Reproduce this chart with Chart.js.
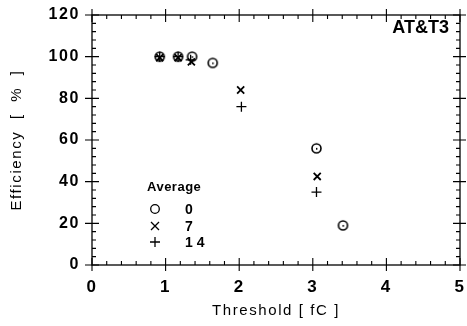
<!DOCTYPE html>
<html>
<head>
<meta charset="utf-8">
<script src="https://cdn.jsdelivr.net/npm/chart.js@4.4.0/dist/chart.umd.min.js"></script>
<style>
html,body{margin:0;padding:0;background:#fff;}
#wrap{width:467px;height:326px;position:relative;}
</style>
</head>
<body>
<div id="wrap"><canvas id="c" width="467" height="326"></canvas></div>
<script>
// ---- data ----
const thr0  = [0.92, 1.17, 1.36, 1.64, 3.05, 3.41];
const eff0  = [100, 100, 100, 97, 56, 19];
const thr7  = [0.92, 1.17, 1.35, 2.02, 3.06];
const eff7  = [99.5, 99.5, 97.5, 84, 42.5];
const thr14 = [0.92, 1.17, 1.34, 2.03, 3.05];
const eff14 = [100, 100, 98.5, 76, 35];
const averageLabels = ['0', '7', '14'];
const xTicks = [0, 1, 2, 3, 4, 5];
const yTicks = [0, 20, 40, 60, 80, 100, 120];
const panelLabel = 'AT&T3';

function pts(xs, ys){ return xs.map((x,i)=>({x:x, y:ys[i]})); }

// circle marker with a centre dot
const circ = document.createElement('canvas');
circ.width = 13; circ.height = 13;
(function(){
  const g = circ.getContext('2d');
  g.strokeStyle = '#000'; g.lineWidth = 1.6;
  g.beginPath(); g.arc(6.5,6.5,4.5,0,Math.PI*2); g.stroke();
  g.fillStyle = '#000'; g.fillRect(6,6,1.4,1.8);
})();

const spacing = {
  id:'spacing',
  beforeDraw(chart){ try { chart.ctx.letterSpacing = '1.6px'; } catch(e) {} }
};

const frameTicks = {
  id:'frameTicks',
  afterDraw(chart){
    const ctx = chart.ctx, a = chart.chartArea;
    const xs = chart.scales.x, ys = chart.scales.y;
    ctx.save();
    ctx.strokeStyle = '#000'; ctx.lineWidth = 1.3;
    ctx.strokeRect(a.left, a.top, a.right - a.left, a.bottom - a.top);
    ctx.lineWidth = 1.1;
    ctx.beginPath();
    for (let i = 0; i <= 25; i++){
      const v = i * 0.2, p = xs.getPixelForValue(v);
      if (i % 5 === 0){
        ctx.moveTo(p, a.bottom + 6); ctx.lineTo(p, a.bottom - 7);
        ctx.moveTo(p, a.top - 6); ctx.lineTo(p, a.top + 7);
      } else {
        ctx.moveTo(p, a.bottom); ctx.lineTo(p, a.bottom - 4);
        ctx.moveTo(p, a.top); ctx.lineTo(p, a.top + 4);
      }
    }
    for (let i = 0; i <= 30; i++){
      const v = i * 4, p = ys.getPixelForValue(v);
      if (i % 5 === 0){
        ctx.moveTo(a.left - 7, p); ctx.lineTo(a.left + 7, p);
        ctx.moveTo(a.right - 7, p); ctx.lineTo(a.right + 6, p);
      } else {
        ctx.moveTo(a.left, p); ctx.lineTo(a.left + 4, p);
        ctx.moveTo(a.right, p); ctx.lineTo(a.right - 4, p);
      }
    }
    ctx.stroke();

    // panel label
    ctx.fillStyle = '#000';
    try { ctx.letterSpacing = '0px'; } catch(e) {}
    ctx.font = 'bold 18px "Liberation Sans", Arial, sans-serif';
    ctx.textAlign = 'right'; ctx.textBaseline = 'middle';
    ctx.fillText(panelLabel, a.right - 11, a.top + 13);

    // legend
    const lx = a.left + 55, ly = a.top + 172;
    ctx.font = 'bold 13px "Liberation Sans", Arial, sans-serif';
    ctx.textAlign = 'left';
    try { ctx.letterSpacing = '0.5px'; } catch(e) {}
    ctx.fillText('Average', lx, ly);
    const sx = lx + 8, tx = lx + 38;
    const rows = [ly + 22, ly + 39, ly + 55];
    ctx.lineWidth = 1.3;
    ctx.beginPath(); ctx.arc(sx, rows[0], 4.3, 0, Math.PI*2); ctx.stroke();
    ctx.beginPath();
    ctx.moveTo(sx-4, rows[1]-4); ctx.lineTo(sx+4, rows[1]+4);
    ctx.moveTo(sx+4, rows[1]-4); ctx.lineTo(sx-4, rows[1]+4);
    ctx.moveTo(sx-5, rows[2]); ctx.lineTo(sx+5, rows[2]);
    ctx.moveTo(sx, rows[2]-5); ctx.lineTo(sx, rows[2]+5);
    ctx.stroke();
    ctx.font = 'bold 14px "Liberation Sans", Arial, sans-serif';
    try { ctx.letterSpacing = '4px'; } catch(e) {}
    averageLabels.forEach((t,i)=>ctx.fillText(t, tx, rows[i] + 1));
    ctx.restore();
  }
};

new Chart(document.getElementById('c'), {
  type: 'scatter',
  data: {
    datasets: [
      { label: averageLabels[0], data: pts(thr0, eff0), pointStyle: circ, pointRadius: 6, borderColor:'#000', backgroundColor:'rgba(0,0,0,0)' },
      { label: averageLabels[1], data: pts(thr7, eff7), pointStyle: 'crossRot', pointRadius: 5, borderWidth: 1.8, borderColor:'#000', backgroundColor:'#000' },
      { label: averageLabels[2], data: pts(thr14, eff14), pointStyle: 'cross', pointRadius: 5, borderWidth: 1.3, borderColor:'#000', backgroundColor:'#000' }
    ]
  },
  options: {
    responsive: false,
    animation: false,
    events: [],
    layout: { padding: { left: 4, right: 7, top: 15, bottom: 4 } },
    plugins: { legend: { display: false }, tooltip: { enabled: false } },
    scales: {
      x: {
        type: 'linear', min: 0, max: 5,
        afterBuildTicks(s){ s.ticks = xTicks.map(v=>({value:v})); },
        afterFit(s){ s.height = 57; s.paddingLeft = 0; s.paddingRight = 0; },
        grid: { display: false, drawTicks: false },
        border: { display: false },
        ticks: { padding: 12, color:'#000', font: { size: 17, weight: 'bold', family: '"Liberation Sans", Arial, sans-serif' }, maxRotation: 0 },
        title: { display: true, text: 'Threshold [ fC ]', color:'#000', padding: { top: 0, bottom: 2 }, font: { size: 15, family: '"Liberation Sans", Arial, sans-serif' } }
      },
      y: {
        type: 'linear', min: 0, max: 120,
        afterBuildTicks(s){ s.ticks = yTicks.map(v=>({value:v})); },
        afterFit(s){ s.width = 88; s.paddingTop = 0; s.paddingBottom = 0; },
        grid: { display: false, drawTicks: false },
        border: { display: false },
        ticks: { padding: 12, color:'#000', font: { size: 16, weight: 'bold', family: '"Liberation Sans", Arial, sans-serif' } },
        title: { display: true, text: 'Efficiency  [  %  ]', color:'#000', padding: { top: 4, bottom: 0 }, font: { size: 15, family: '"Liberation Sans", Arial, sans-serif' } }
      }
    }
  },
  plugins: [spacing, frameTicks]
});
</script>
</body>
</html>
